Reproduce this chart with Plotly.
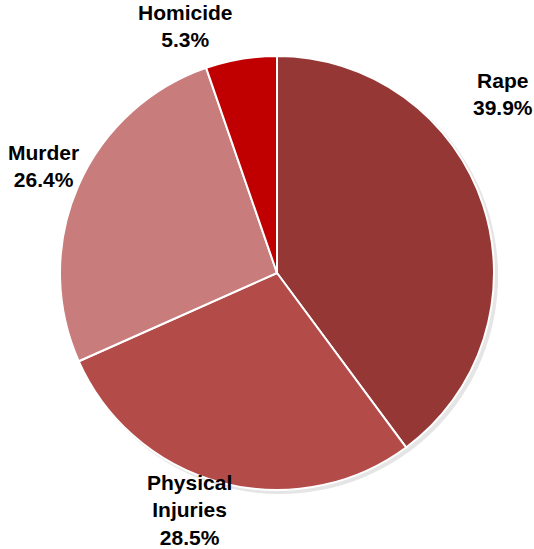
import plotly.graph_objects as go

# Share of reported crimes by category (percent)
categories = ["Rape", "Physical Injuries", "Murder", "Homicide"]
shares = [39.9, 28.5, 26.4, 5.3]
slice_colors = ["#953735", "#B34B49", "#C87C7B", "#C00000"]

# Label placement (pixel centre of each two/three-line label block)
label_text = ["Rape", "Physical<br>Injuries", "Murder", "Homicide"]
label_anchor_px = [(503, 94), (189, 510), (44, 166), (185, 26)]

W, H = 534, 549

fig = go.Figure()

# soft drop shadow under the pie
fig.add_trace(go.Pie(
    values=[1],
    marker=dict(colors=["rgba(0,0,0,0.10)"], line=dict(width=0)),
    textinfo="none", hoverinfo="skip", showlegend=False, sort=False,
    domain=dict(x=[62 / W, 498 / W], y=[1 - 494 / H, 1 - 58 / H]),
))

fig.add_trace(go.Pie(
    labels=categories,
    values=shares,
    sort=False,
    direction="clockwise",
    rotation=0,
    marker=dict(colors=slice_colors, line=dict(color="white", width=2)),
    textinfo="none",
    showlegend=False,
    domain=dict(x=[60 / W, 494 / W], y=[1 - 490 / H, 1 - 56 / H]),
))

for txt, v, (px, py) in zip(label_text, shares, label_anchor_px):
    fig.add_annotation(
        x=px / W, y=1 - py / H, xref="paper", yref="paper",
        text=f"<b>{txt}<br>{v:.1f}%</b>",
        showarrow=False, xanchor="center", yanchor="middle", align="center",
        font=dict(family="Liberation Sans, Arial, sans-serif", size=21, color="black"),
    )

fig.update_layout(
    width=W, height=H,
    margin=dict(l=0, r=0, t=0, b=0),
    paper_bgcolor="white", plot_bgcolor="white",
)

fig.write_html("out.html")
